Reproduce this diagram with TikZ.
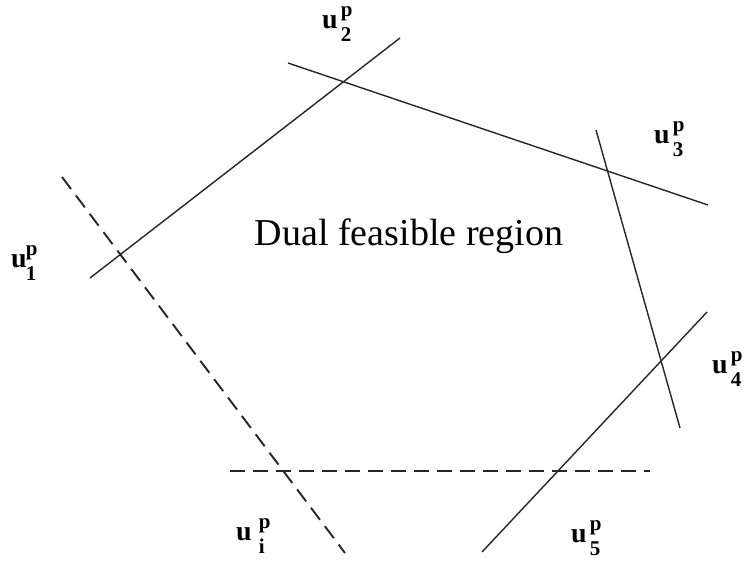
\documentclass[tikz,border=0pt]{standalone}
\usepackage{fontspec}
\setmainfont{Liberation Serif}
\newcommand{\ulab}[2][3pt]{{\fontsize{28}{30}\selectfont\bfseries u}\hspace{#1}%
  {\fontsize{21}{23}\selectfont\bfseries\rlap{\raisebox{12pt}{p}}\raisebox{-13pt}{#2}}}
\begin{document}
\begin{tikzpicture}[x=1pt,y=-1pt,
  solidline/.style={line width=1.4pt,black!85},
  dashline/.style={line width=1.9pt,black!85,dash pattern=on 15pt off 8pt},
  ulabel/.style={inner sep=0pt,anchor=base west}]
\useasboundingbox (0,0) rectangle (747,562);
% end points
\coordinate (a1) at (90,278);  \coordinate (a2) at (400,38);
\coordinate (b1) at (288,63);  \coordinate (b2) at (708,205);
\coordinate (c1) at (596,130); \coordinate (c2) at (680,428);
\coordinate (d1) at (482,552); \coordinate (d2) at (707,312);
\coordinate (e1) at (62,177);  \coordinate (e2) at (345,553);
\coordinate (f1) at (230,471); \coordinate (f2) at (650,471);
\draw[solidline] (a1) -- (a2);
\draw[solidline] (b1) -- (b2);
\draw[solidline] (c1) -- (c2);
\draw[solidline] (d1) -- (d2);
\draw[dashline] (e1) -- (e2);
\draw[dashline] (f1) -- (f2);
\node[font=\fontsize{38}{42}\selectfont] (title) at (409,236) {Dual feasible region};
\node[ulabel] (u1) at (11,267) {\ulab[-1pt]{1}};
\node[ulabel] (u2) at (322,28) {\ulab{2}};
\node[ulabel] (u3) at (654,143) {\ulab{3}};
\node[ulabel] (u4) at (712,373) {\ulab{4}};
\node[ulabel] (ui) at (236,540) {\ulab[7pt]{i}};
\node[ulabel] (u5) at (571,542) {\ulab{5}};
\end{tikzpicture}
\end{document}
